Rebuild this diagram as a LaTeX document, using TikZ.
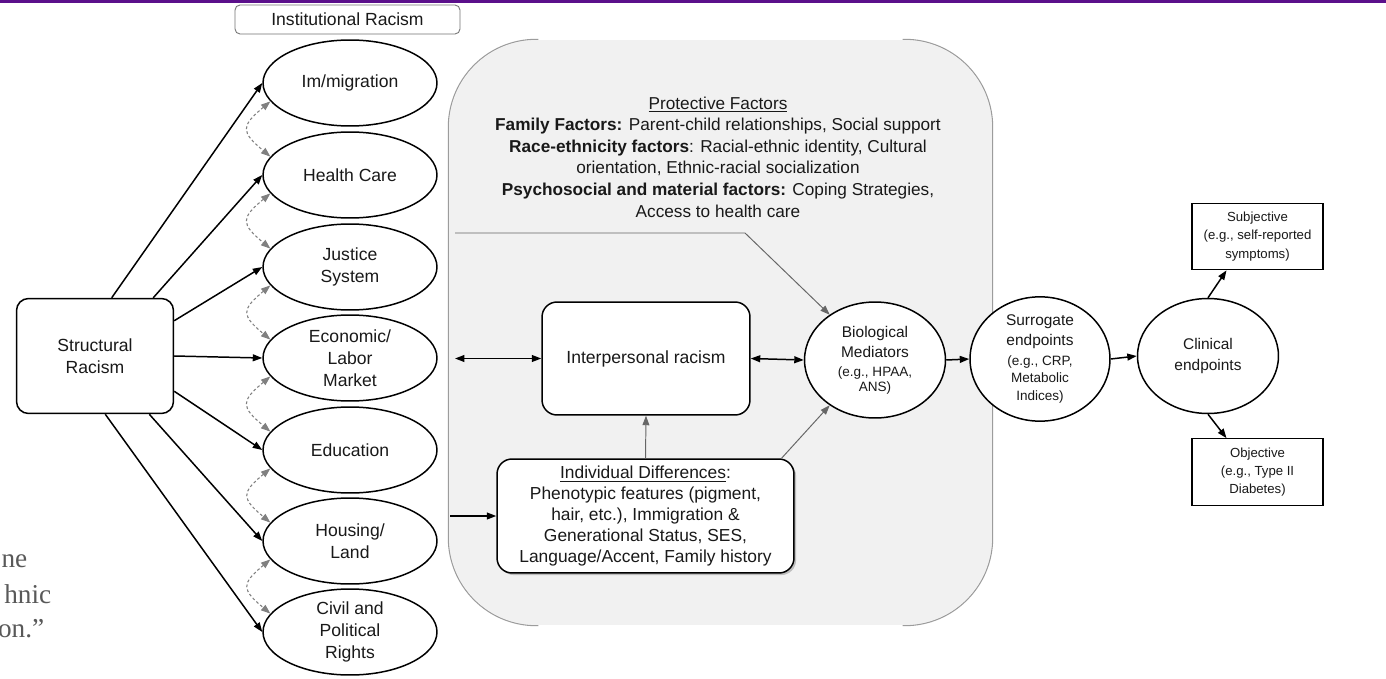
\documentclass[tikz,border=0pt]{standalone}
\usepackage{fontspec}
\setmainfont{Liberation Sans}
\newfontfamily\slidefont{Liberation Serif}
\usetikzlibrary{arrows.meta,shapes.geometric,shadows}
\definecolor{panelgray}{HTML}{F1F1F1}
\definecolor{panelline}{HTML}{9C9C9C}
\definecolor{slidepurple}{HTML}{5B108B}
\definecolor{slidetext}{HTML}{595959}
\newcommand{\egfont}{\fontsize{7.7}{9}\selectfont}

\begin{document}
\begin{tikzpicture}[x=0.02cm, y=0.02cm, font=\fontsize{10}{12.4}\selectfont, line width=0.85pt, text=black!90,
	arr/.style={-{Triangle[length=5.4pt,width=3.9pt]}},
	arrboth/.style={{Triangle[length=5.4pt,width=3.9pt]}-{Triangle[length=5.4pt,width=3.9pt]}},
	inst/.style={ellipse, draw, fill=white, minimum width=3.48cm, minimum height=1.72cm, inner sep=0pt, align=center},
	rbox/.style={rectangle, rounded corners=0.3cm, draw, fill=white, align=center},
	endpt/.style={ellipse, draw, fill=white, minimum width=2.82cm, minimum height=2.32cm, inner sep=0pt, align=center, font=\fontsize{8.8}{11.4}\selectfont},
	outbox/.style={rectangle, draw, line width=0.7pt, fill=white, minimum width=2.62cm, minimum height=1.33cm, inner sep=0pt, align=center, font=\fontsize{7.5}{10.3}\selectfont},
	link/.style={arrboth, dash pattern=on 1.6pt off 1.3pt, draw=gray, line width=0.6pt},
	faint/.style={arr, draw=black!60, line width=0.55pt},
	frag/.style={anchor=base east, inner sep=0pt, text=slidetext, font=\slidefont\fontsize{15.5}{18}\selectfont}]
	\fill[white] (0,0) rectangle (1386,-679);
	\useasboundingbox (0,0) rectangle (1386,-679);
	\fill[slidepurple] (0,0) rectangle (1386,-3.5);
	\node[frag] (frag1) at (28,-567) {ne};
	\node[frag] (frag2) at (52,-603) {hnic};
	\node[frag] (frag3) at (45,-637) {on.”};

	\node[draw=black!55, line width=0.5pt, rounded corners=0.1cm, minimum width=4.5cm, minimum height=0.58cm, inner sep=0pt] (ir) at (347.5,-19.5) {Institutional Racism};

	\node[fill=panelgray, rounded corners=1.76cm, minimum width=10.86cm, minimum height=11.7cm, inner sep=0pt] (panel) at (720.5,-332.5) {};
	\draw[panelline, line width=0.6pt, rounded corners=1.76cm] ([xshift=1.8cm]panel.north west) -- (panel.north west) -- (panel.south west) -- ([xshift=1.8cm]panel.south west);
	\draw[panelline, line width=0.6pt, rounded corners=1.76cm] ([xshift=-1.8cm]panel.north east) -- (panel.north east) -- (panel.south east) -- ([xshift=-1.8cm]panel.south east);
	\node[align=center, font=\fontsize{9.8}{12.3}\selectfont] (pf) at (718,-157) {\underline{Protective Factors}\\
		\textbf{Family Factors:} Parent-child relationships, Social support\\
		\textbf{Race-ethnicity factors}: Racial-ethnic identity, Cultural\\
		orientation, Ethnic-racial socialization\\
		\textbf{Psychosocial and material factors:} Coping Strategies,\\
		Access to health care};

	\node[inst] (imm) at (350,-83) {Im/migration};
	\node[inst] (hc) at (350,-175) {Health Care};
	\node[inst] (js) at (350,-267) {Justice\\System};
	\node[inst] (el) at (350,-358) {Economic/\\Labor\\Market};
	\node[inst] (ed) at (350,-450) {Education};
	\node[inst] (hl) at (350,-541) {Housing/\\Land};
	\node[inst] (cp) at (350,-632) {Civil and\\Political\\Rights};
	\foreach \a/\b in {imm/hc, hc/js, js/el, el/ed, ed/hl, hl/cp}
		\draw[link] (\a.193) to[out=220, in=140, looseness=1.8] (\b.167);

	\node[rbox, rounded corners=0.24cm, minimum width=3.14cm, minimum height=2.3cm] (sr) at (95,-356) {Structural\\Racism};
	\foreach \ang/\dest in {74/imm, 45/hc, 24/js, 0/el, 336/ed, 313/hl, 280/cp}
		\draw[arr] (sr.\ang) -- (\dest.west);

	\node[rbox, minimum width=4.16cm, minimum height=2.26cm] (ip) at (646,-358.5) {Interpersonal racism};
	\node[rbox, drop shadow={shadow xshift=1.2pt, shadow yshift=-1.2pt, opacity=0.45}, minimum width=5.94cm, minimum height=2.28cm, inner sep=2pt, font=\fontsize{9.9}{11.9}\selectfont] (id) at (645.5,-516) {\underline{Individual Differences}:\\
		Phenotypic features (pigment,\\
		hair, etc.), Immigration \&\\
		Generational Status, SES,\\
		Language/Accent, Family history};

	\node[endpt] (bio) at (875,-360) {Biological\\Mediators\\[-0.5pt]{\egfont (e.g., HPAA,}\\[-2.8pt]{\egfont ANS)}};
	\node[endpt, minimum width=2.8cm, minimum height=2.3cm] (sur) at (1040,-359) {Surrogate\\endpoints\\[-0.5pt]{\egfont (e.g., CRP,}\\[-1.4pt]{\egfont Metabolic}\\[-1.4pt]{\egfont Indices)}};
	\node[endpt, minimum height=2.3cm] (cl) at (1208,-356) {Clinical\\[1pt]endpoints};
	\node[outbox] (sub) at (1257.5,-236.5) {Subjective\\(e.g., self-reported\\symptoms)};
	\node[outbox] (obj) at (1257.5,-472) {Objective\\(e.g., Type II\\Diabetes)};

	\coordinate (ipleft) at (455,-358.5);
	\coordinate (idleft) at (450,-516);
	\coordinate (pfleft) at (455,-233);
	\coordinate (pfbend) at (745,-233);
	\draw[arrboth] (ipleft) -- (ip.west);
	\draw[arr] (idleft) -- (id.west);
	\draw[faint] (pfleft) -- (pfbend) -- (bio.135);
	\draw[faint] (id.north) -- (ip.south);
	\draw[faint] (id.23) -- (bio.225);
	\draw[arrboth] (ip.east) -- (bio.west);
	\draw[arr] (bio.east) -- (sur.west);
	\draw[arr] (sur.east) -- (cl.west);
	\draw[arr] (cl.north) -- ([xshift=-0.62cm]sub.south);
	\draw[arr] (cl.south) -- ([xshift=-0.62cm]obj.north);
\end{tikzpicture}
\end{document}
